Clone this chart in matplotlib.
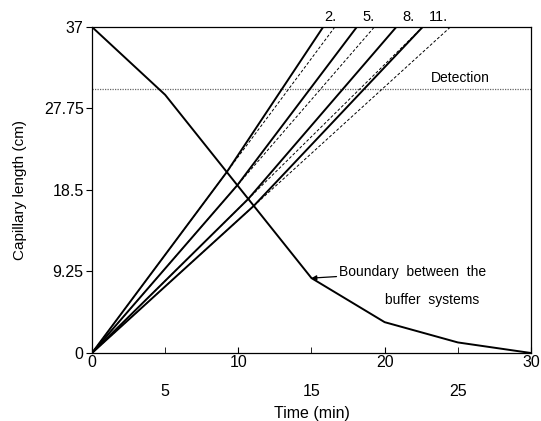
import numpy as np
import matplotlib.pyplot as plt

plt.rcParams['font.family'] = ['Liberation Sans', 'DejaVu Sans']

# Граница между буферными системами (время, см)
t_boundary = [0, 5, 15, 20, 25, 30]
y_boundary = [37, 29.3, 8.5, 3.5, 1.2, 0]

# Кривые: подпись, время выхода на конец капилляра (сплошная и пунктир)
curve_labels = ['2.', '5.', '8.', '11.']
t_top_solid = [15.8, 18.1, 20.8, 22.6]
t_top_dashed = [16.6, 19.3, 22.6, 24.5]
t_label = [16.3, 18.9, 21.6, 23.7]

capillary = 37.0
detection = 30.0

y_ticks = [0, 9.25, 18.5, 27.75, 37]
x_major = [0, 10, 20, 30]
x_minor = [5, 15, 25]


def crossing(slope):
    # пересечение прямой y = slope*t с границей
    for i in range(len(t_boundary) - 1):
        t0, t1 = t_boundary[i], t_boundary[i + 1]
        y0, y1 = y_boundary[i], y_boundary[i + 1]
        m = (y1 - y0) / (t1 - t0)
        t = (y0 - m * t0) / (slope - m)
        if t0 <= t <= t1:
            return t, slope * t
    return None


fig = plt.figure(figsize=(5.41, 4.21), dpi=100)
ax = fig.add_axes([0.170, 0.1615, 0.8115, 0.7745])

# Линия детектирования
ax.axhline(detection, color='0.4', linewidth=0.9, linestyle=(0, (1, 1)))
ax.text(25.2, 31.2, 'Detection', fontsize=10, ha='center', va='center')

# Граница буферов
ax.plot(t_boundary, y_boundary, color='black', linewidth=1.4)
ax.annotate('Boundary  between  the', xy=(15, 8.5), xytext=(16.9, 9.2),
            fontsize=10, va='center', ha='left',
            arrowprops=dict(arrowstyle='-|>', color='black', lw=0.9,
                            mutation_scale=7, shrinkA=0, shrinkB=0))
ax.text(20.0, 6.0, 'buffer  systems', fontsize=10, va='center', ha='left')

# Траектории зон
for lab, ts, td, tl in zip(curve_labels, t_top_solid, t_top_dashed, t_label):
    slope = capillary / td
    tc, yc = crossing(slope)
    ax.plot([0, td], [0, capillary], color='black', linewidth=0.7,
            linestyle=(0, (3, 2)))
    ax.plot([0, tc, ts], [0, yc, capillary], color='black', linewidth=1.4)
    ax.text(tl, capillary + 0.3, lab, fontsize=10.5, ha='center', va='bottom')

ax.set_xlim(0, 30)
ax.set_ylim(0, 37)
ax.set_xticks(x_major)
ax.set_xticks(x_minor, minor=True)
ax.set_xticklabels([str(v) for v in x_major])
ax.set_xticklabels([str(v) for v in x_minor], minor=True)
ax.tick_params(axis='x', which='major', direction='in', length=4, pad=1.5,
               labelsize=11.5)
ax.tick_params(axis='x', which='minor', direction='in', length=4, pad=22,
               labelsize=11.5)
ax.set_yticks(y_ticks)
ax.set_yticklabels(['0', '9.25', '18.5', '27.75', '37'])
ax.tick_params(axis='y', direction='out', length=4, pad=2, labelsize=11.5)

for sp in ax.spines.values():
    sp.set_linewidth(0.9)

ax.set_xlabel('Time (min)', fontsize=11.5, labelpad=5)
ax.set_ylabel('Capillary length (cm)', fontsize=11, labelpad=12)

plt.savefig('out.png', dpi=100)
